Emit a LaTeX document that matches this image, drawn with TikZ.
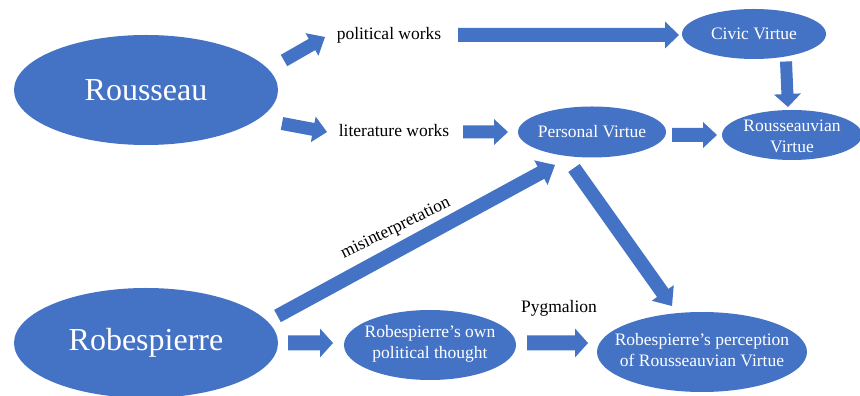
\documentclass[tikz,border=0pt]{standalone}
\usepackage{fontspec}
\setmainfont{Liberation Serif}
\usetikzlibrary{calc,shapes.geometric}
\definecolor{nodeblue}{HTML}{4472C4}
\newcommand\blockarrow[5]{%
\fill[nodeblue] let \p1=(#1), \p2=(#2), \n1={atan2(\y2-\y1,\x2-\x1)}, \n2={veclen(\x2-\x1,\y2-\y1)} in
 ($(\p1)+(\n1+90:#3)$) -- ($(\p1)+(\n1:\n2-#5)+(\n1+90:#3)$) -- ($(\p1)+(\n1:\n2-#5)+(\n1+90:#4)$) -- (\p2)
 -- ($(\p1)+(\n1:\n2-#5)+(\n1-90:#4)$) -- ($(\p1)+(\n1:\n2-#5)+(\n1-90:#3)$) -- ($(\p1)+(\n1-90:#3)$) -- cycle;}
\begin{document}
\begin{tikzpicture}[x=1pt,y=1pt,
  ell/.style={ellipse, fill=nodeblue, inner sep=0pt},
  wt/.style={text=white, align=center, inner sep=0pt, font=\fontsize{17.5}{21}\selectfont},
  bigt/.style={text=white, inner sep=0pt, font=\fontsize{32}{38}\selectfont},
  lbl/.style={text=black, inner sep=0pt, anchor=base, font=\fontsize{17.5}{21}\selectfont}]
\useasboundingbox (0,0) rectangle (860,396);
% ellipses
\node[ell, minimum width=264pt, minimum height=110pt] (rou) at (146,306) {};
\node[bigt] (rout) at (rou) {Rousseau};
\node[ell, minimum width=264pt, minimum height=110pt] (rob) at (146,53) {};
\node[bigt] (robt) at (rob) {Robespierre};
\node[ell, minimum width=144pt, minimum height=50pt] (civ) at (754,362) {};
\node[wt] (civt) at (civ) {Civic Virtue};
\node[ell, minimum width=148pt, minimum height=51pt] (per) at (592,264) {};
\node[wt] (pert) at (per) {Personal Virtue};
\node[ell, minimum width=140pt, minimum height=50pt] (rv) at (792,261) {};
\node[wt] (rvt) at ([yshift=-1pt]rv) {Rousseauvian\\Virtue};
\node[ell, minimum width=172pt, minimum height=70pt] (own) at (430,51) {};
\node[wt] (ownt) at ([yshift=1pt]own) {Robespierre’s own\\political thought};
\node[ell, minimum width=210pt, minimum height=80pt] (perc) at (702,44) {};
\node[wt] (perct) at ([yshift=2pt]perc) {Robespierre’s perception\\of Rousseauvian Virtue};
% labels
\node[lbl] (pw) at (389,356) {political works};
\node[lbl] (lw) at (394,259) {literature works};
\node[lbl] (pyg) at (559,83) {Pygmalion};
\node[lbl, rotate=26] (mis) at (397.5,164) {misinterpretation};
% arrow end points
\coordinate (a1s) at (284,335.5); \coordinate (a1e) at (325,359);
\coordinate (a2s) at (282,272.5); \coordinate (a2e) at (327,264);
\coordinate (a3s) at (458,361);   \coordinate (a3e) at (679,361);
\coordinate (a4s) at (463,264);   \coordinate (a4e) at (508,264);
\coordinate (a5s) at (672,261);   \coordinate (a5e) at (717,261);
\coordinate (a6s) at (786,334.5); \coordinate (a6e) at (788,289);
\coordinate (a7s) at (277.5,80);  \coordinate (a7e) at (555,231);
\coordinate (a8s) at (574,228);   \coordinate (a8e) at (672,90);
\coordinate (a9s) at (288,53);    \coordinate (a9e) at (333,53);
\coordinate (a10s) at (527,53);   \coordinate (a10e) at (588,53);
\blockarrow{a1s}{a1e}{6.5}{13}{15}
\blockarrow{a2s}{a2e}{6.5}{13}{14}
\blockarrow{a3s}{a3e}{7}{13.5}{14}
\blockarrow{a4s}{a4e}{6.5}{13}{14}
\blockarrow{a5s}{a5e}{7}{13}{14}
\blockarrow{a6s}{a6e}{6}{13.5}{13}
\blockarrow{a7s}{a7e}{7}{14}{16}
\blockarrow{a8s}{a8e}{7}{13.5}{16}
\blockarrow{a9s}{a9e}{7.5}{14.5}{13}
\blockarrow{a10s}{a10e}{7.5}{14.5}{13}
\end{tikzpicture}
\end{document}
